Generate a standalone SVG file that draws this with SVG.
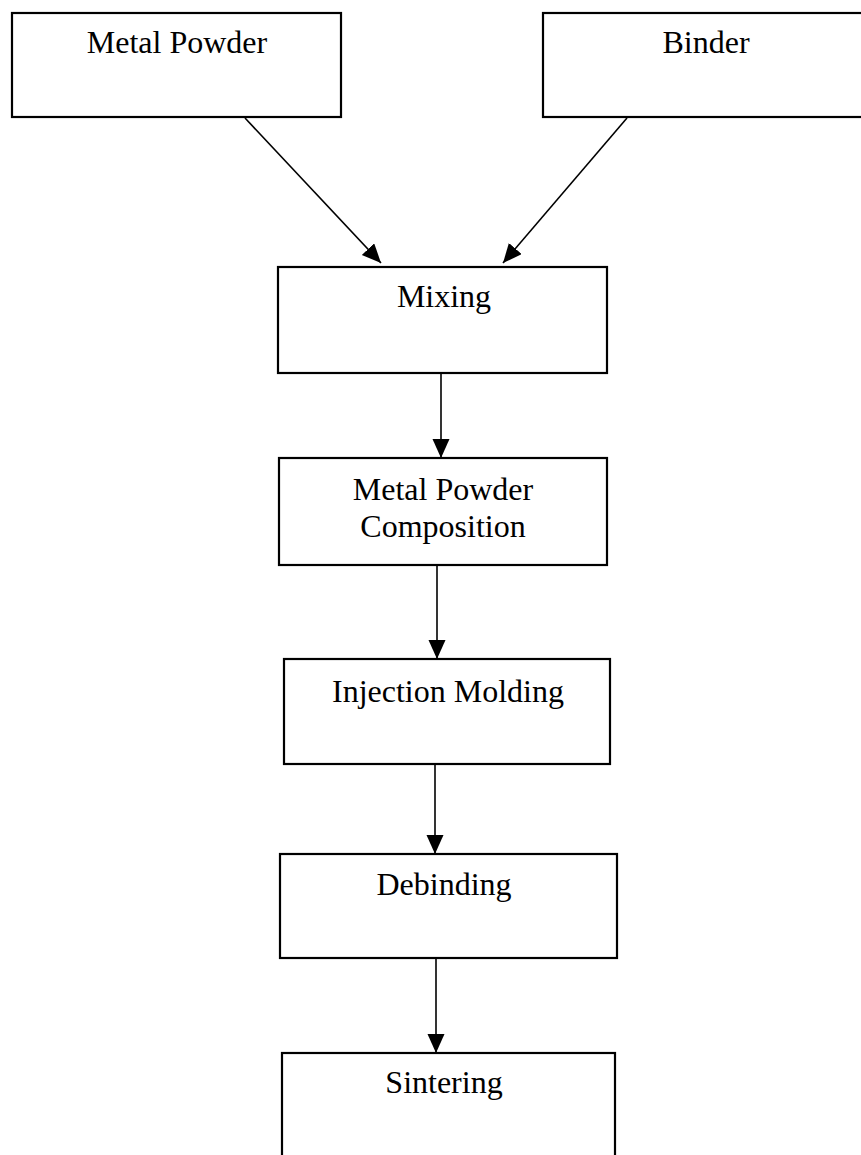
<svg xmlns="http://www.w3.org/2000/svg" width="861" height="1155" viewBox="0 0 861 1155">
<style>
.box{fill:#fff;stroke:#000;stroke-width:2.2}
.lbl{font-family:"Liberation Serif","Times New Roman",serif;font-size:32px;fill:#000;text-anchor:middle}
.conn{stroke:#000;stroke-width:1.6;fill:none;marker-end:url(#ah)}
</style>
<defs>
<marker id="ah" markerUnits="userSpaceOnUse" markerWidth="19" markerHeight="18" refX="19" refY="8.5" orient="auto">
<path d="M0,0 L19,8.5 L0,17 Z" fill="#000"/>
</marker>
</defs>
<rect width="861" height="1155" fill="#fff"/>
<g id="connectors">
<line class="conn" x1="245" y1="118" x2="381" y2="263"/>
<line class="conn" x1="627" y1="118" x2="503" y2="263"/>
<line class="conn" x1="441" y1="373" x2="441" y2="458"/>
<line class="conn" x1="437" y1="565" x2="437" y2="659"/>
<line class="conn" x1="435" y1="764" x2="435" y2="854"/>
<line class="conn" x1="436" y1="958" x2="436" y2="1053"/>
</g>
<g id="metal-powder">
<rect class="box" x="12" y="13" width="329" height="104"/>
<text class="lbl" x="177" y="53">Metal Powder</text>
</g>
<g id="binder">
<rect class="box" x="543" y="13" width="330" height="104"/>
<text class="lbl" x="706" y="53">Binder</text>
</g>
<g id="mixing">
<rect class="box" x="278" y="267" width="329" height="106"/>
<text class="lbl" x="444" y="307">Mixing</text>
</g>
<g id="composition">
<rect class="box" x="279" y="458" width="328" height="107"/>
<text class="lbl" x="443" y="500">Metal Powder</text>
<text class="lbl" x="443" y="537">Composition</text>
</g>
<g id="injection-molding">
<rect class="box" x="284" y="659" width="326" height="105"/>
<text class="lbl" x="448" y="702">Injection Molding</text>
</g>
<g id="debinding">
<rect class="box" x="280" y="854" width="337" height="104"/>
<text class="lbl" x="444" y="895">Debinding</text>
</g>
<g id="sintering">
<rect class="box" x="282" y="1053" width="333" height="120"/>
<text class="lbl" x="444" y="1093">Sintering</text>
</g>
</svg>
